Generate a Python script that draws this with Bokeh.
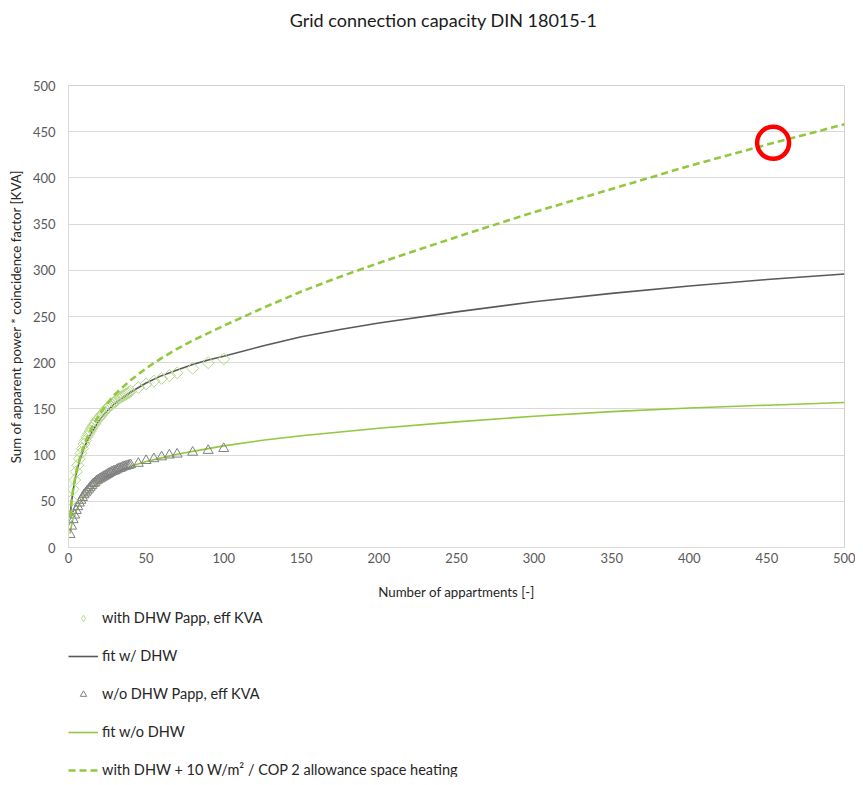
import numpy as np
from bokeh.plotting import figure
from bokeh.layouts import column
from bokeh.models import ColumnDataSource, Range1d, Legend, LegendItem, Label, FixedTicker
from bokeh.embed import file_html
from bokeh.resources import INLINE

# ---------------- data ----------------
n_points = list(range(1, 41)) + [45, 50, 55, 60, 65, 70, 80, 90, 100]
with_dhw_kva = [34, 51, 63, 73, 82, 89, 96, 102, 107, 112,
                116, 120, 123, 126, 129, 132, 134, 137, 139, 141,
                143, 145, 147, 149, 151, 152, 154, 155, 157, 158,
                159, 161, 162, 163, 164, 165, 166, 167, 168, 169,
                173, 177, 180, 183, 186, 189, 194, 200, 204]
without_dhw_kva = [14, 23, 30, 35, 40, 44, 48, 51, 54, 57,
                   59, 61, 63, 65, 67, 69, 70, 72, 73, 74,
                   75, 76, 77, 78, 79, 80, 81, 82, 82.5, 83,
                   84, 85, 85.5, 86, 87, 87.5, 88, 88.5, 89, 89.5,
                   91, 94, 96, 98, 100, 101, 103, 105, 107]

fit_n = [1, 2, 3, 5, 7, 10, 15, 20, 25, 30, 40, 50, 60, 70, 80, 90, 100,
         125, 150, 175, 200, 250, 300, 350, 400, 450, 500]
fit_with_dhw = [33, 50, 62, 80, 93, 108, 125, 138, 148, 156, 168, 178, 186, 192, 198, 203, 207,
                218, 228, 236, 243, 255, 266, 275, 283, 290, 296]
fit_without_dhw = [15, 24, 31, 40, 47, 55, 64, 71, 76, 81, 88, 93, 97, 101, 104, 107, 110,
                   116, 121, 125, 129, 136, 142, 147, 151, 154, 157]
with_allowance = [33, 51, 63, 82, 95, 111, 130, 144, 156, 166, 181, 194, 205, 215, 224, 232, 240,
                  259, 277, 293, 308, 336, 363, 388, 413, 436, 458]

highlight_n = [454]
highlight_kva = [438]

x_ticks = list(range(0, 501, 50))
y_ticks = list(range(0, 501, 50))

title_text = "Grid connection capacity DIN 18015-1"
x_label = "Number of appartments [-]"
y_label = "Sum of apparent power * coincidence factor [KVA]"
legend_labels = ["with DHW Papp, eff KVA", "fit w/ DHW", "w/o DHW Papp, eff KVA",
                 "fit w/o DHW", "with DHW + 10 W/m\u00b2 / COP 2 allowance space heating"]

# ---------------- styling ----------------
FONT = "Lato"
GRID = "#D9D9D9"
TXT = "#595959"
GREEN = "#92C83E"
DIAMOND_GREEN = "#B5D98A"
DARK = "#595959"
TRI = "#808080"
W = 855
H_TOP, H_MAIN, H_LEG = 73, 529, 175
FRAME_W = 776  # plot frame width shared by the stacked figures

# ---------------- header (title) ----------------
top = figure(width=W, height=H_TOP, output_backend="svg", toolbar_location=None,
             x_range=Range1d(0, FRAME_W), y_range=Range1d(0, H_TOP),
             x_axis_type=None, y_axis_type=None, min_border=0)
top.outline_line_color = None
top.grid.visible = False
top.add_layout(Label(x=375, y=H_TOP - 19, text=title_text, text_font=FONT,
                     text_font_size="18px", text_color="#1a1a1a",
                     text_align="center", text_baseline="middle"))

# ---------------- main chart ----------------
p = figure(width=W, height=H_MAIN, output_backend="svg", toolbar_location=None,
           x_range=Range1d(0, 500), y_range=Range1d(0, 500),
           min_border_left=68, min_border_right=11, min_border_top=12, min_border_bottom=54)
p.background_fill_color = "white"
p.border_fill_color = "white"
p.outline_line_color = "#D0D0D0"
p.outline_line_width = 1

p.xaxis.ticker = FixedTicker(ticks=x_ticks)
p.yaxis.ticker = FixedTicker(ticks=y_ticks)
p.xgrid.grid_line_color = None
p.ygrid.grid_line_color = GRID
p.ygrid.grid_line_width = 1

for ax in (p.xaxis[0], p.yaxis[0]):
    ax.axis_line_color = GRID
    ax.major_tick_line_color = None
    ax.minor_tick_line_color = None
    ax.major_tick_out = 0
    ax.major_tick_in = 0
    ax.minor_tick_out = 0
    ax.major_label_text_font = FONT
    ax.major_label_text_font_size = "13px"
    ax.major_label_text_color = TXT
    ax.axis_label_text_font = FONT
    ax.axis_label_text_font_size = "13.3px"
    ax.axis_label_text_font_style = "normal"
    ax.axis_label_text_color = "#262626"

p.xaxis.axis_label = x_label
p.yaxis.axis_label = y_label
p.xaxis.major_label_standoff = 5
p.xaxis.axis_label_standoff = 18
p.yaxis.major_label_standoff = 13
p.yaxis.axis_label_standoff = 6

src_w = ColumnDataSource(dict(n=n_points, kva=with_dhw_kva))
src_wo = ColumnDataSource(dict(n=n_points, kva=without_dhw_kva))
src_fit = ColumnDataSource(dict(n=fit_n, fw=fit_with_dhw, fwo=fit_without_dhw, al=with_allowance))

STY_FWO = dict(line_color=GREEN, line_width=1.6)
STY_FW = dict(line_color=DARK, line_width=1.6)
STY_AL = dict(line_color=GREEN, line_width=2.6, line_dash="7 4")
STY_TRI = dict(marker="triangle", size=10, fill_color=None, line_color=TRI, line_width=1)
STY_DIA = dict(marker="square", angle=np.pi / 4, size=8.5, fill_color=None,
               line_color=DIAMOND_GREEN, line_width=1)
# smaller marker versions for the legend keys
STY_TRI_KEY = dict(marker="triangle", size=8, fill_color=None, line_color=TRI, line_width=1)
STY_DIA_KEY = dict(marker="diamond", size=11, fill_color=None, line_color=DIAMOND_GREEN, line_width=1)


def draw_series(fig, sty_tri, sty_dia):
    return dict(
        fwo=fig.line("n", "fwo", source=src_fit, **STY_FWO),
        fw=fig.line("n", "fw", source=src_fit, **STY_FW),
        tri=fig.scatter("n", "kva", source=src_wo, **sty_tri),
        dia=fig.scatter("n", "kva", source=src_w, **sty_dia),
        al=fig.line("n", "al", source=src_fit, **STY_AL),
    )


draw_series(p, STY_TRI, STY_DIA)
p.scatter(highlight_n, highlight_kva, marker="circle", size=32, fill_color=None,
          line_color="#FF0000", line_width=4.5)

# ---------------- legend (below the chart) ----------------
# the same series, placed out of view, only to provide the legend glyphs
leg = figure(width=W, height=H_LEG, output_backend="svg", toolbar_location=None,
             x_range=Range1d(-2000, -1999), y_range=Range1d(-2000, -1999),
             x_axis_type=None, y_axis_type=None, min_border=0)
leg.outline_line_color = None
leg.grid.visible = False
lr = draw_series(leg, STY_TRI_KEY, STY_DIA_KEY)

legend = Legend(items=[
    LegendItem(label=legend_labels[0], renderers=[lr["dia"]]),
    LegendItem(label=legend_labels[1], renderers=[lr["fw"]]),
    LegendItem(label=legend_labels[2], renderers=[lr["tri"]]),
    LegendItem(label=legend_labels[3], renderers=[lr["fwo"]]),
    LegendItem(label=legend_labels[4], renderers=[lr["al"]]),
], location=(0, -1), orientation="vertical",
    glyph_width=30, glyph_height=16, label_height=16, label_standoff=4, spacing=21,
    padding=0, margin=0, border_line_color=None, background_fill_alpha=0,
    label_text_font=FONT, label_text_font_size="14.5px", label_text_color="#262626")
leg.add_layout(legend, "center")

open("out.html", "w").write(file_html(column(top, p, leg, spacing=0), INLINE))
